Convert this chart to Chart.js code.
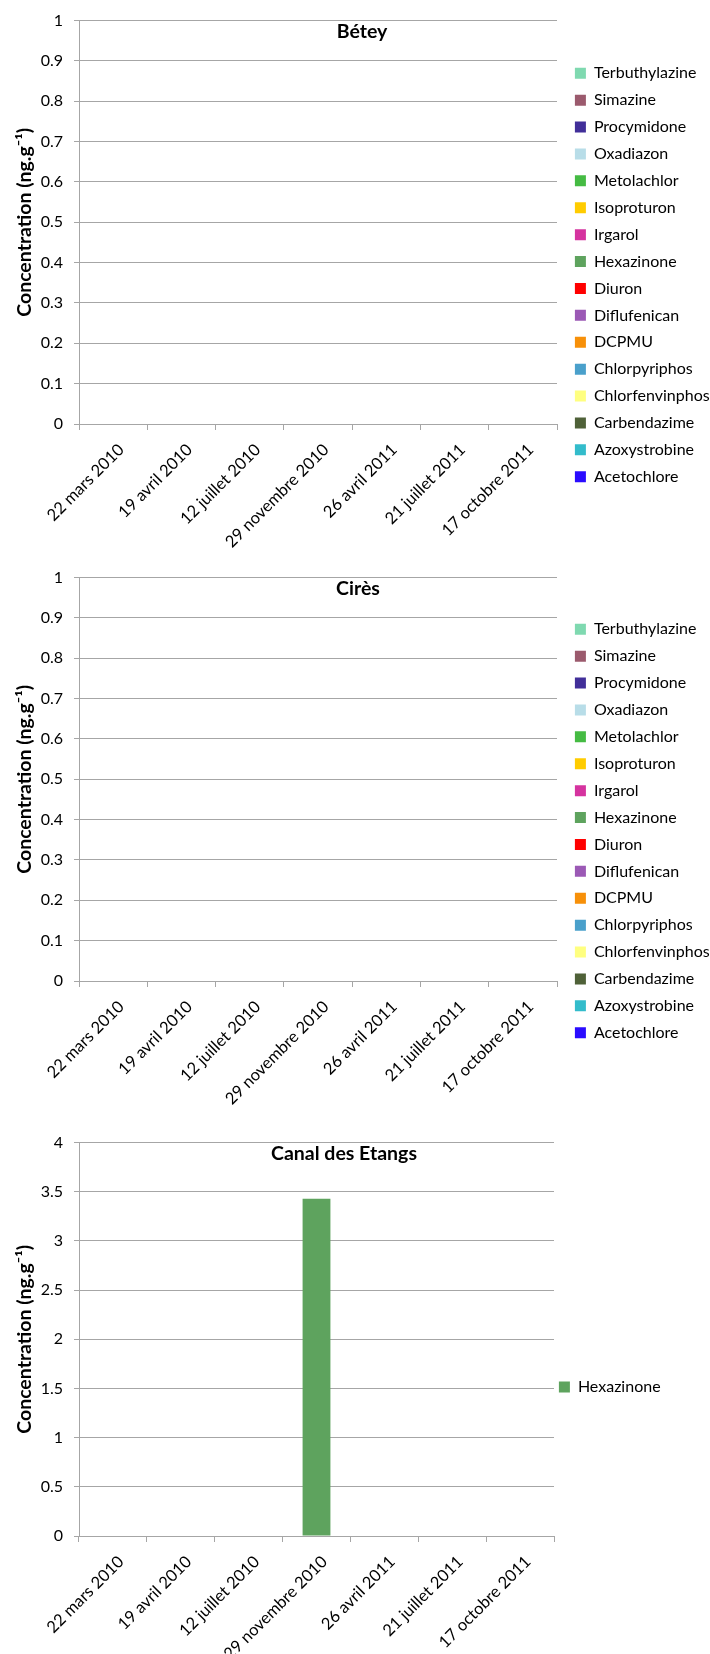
<!DOCTYPE html>
<html>
<head>
<meta charset="utf-8">
<script src="https://cdn.jsdelivr.net/npm/chart.js@4.4.1/dist/chart.umd.min.js"></script>
<style>
  body { margin: 0; background: #fff; }
  .panel { position: absolute; left: 0; width: 710px; }
</style>
</head>
<body>
<div class="panel" style="top:0"><canvas id="betey" width="710" height="556"></canvas></div>
<div class="panel" style="top:557px"><canvas id="cires" width="710" height="556"></canvas></div>
<div class="panel" style="top:1122px"><canvas id="canal" width="710" height="532"></canvas></div>
<script>
const dates = ['22 mars 2010', '19 avril 2010', '12 juillet 2010', '29 novembre 2010',
               '26 avril 2011', '21 juillet 2011', '17 octobre 2011'];

// ordre des séries (la légende est affichée à l'envers, comme Excel)
const compounds = ['Acetochlore', 'Azoxystrobine', 'Carbendazime', 'Chlorfenvinphos', 'Chlorpyriphos',
                   'DCPMU', 'Diflufenican', 'Diuron', 'Hexazinone', 'Irgarol', 'Isoproturon',
                   'Metolachlor', 'Oxadiazon', 'Procymidone', 'Simazine', 'Terbuthylazine'];
const compoundColors = ['#2a0cff', '#33bccb', '#4f6138', '#ffff80', '#4aa0cb',
                        '#f79009', '#9b59b5', '#ff0000', '#5ea35e', '#d5339f', '#ffcc00',
                        '#45bb43', '#b8dde8', '#412f99', '#9b5a6d', '#7fd9b0'];

// Bétey et Cirès : rien de détecté sur les 7 campagnes
const beteyValues = [0, 0, 0, 0, 0, 0, 0];
const ciresValues = [0, 0, 0, 0, 0, 0, 0];
// Canal des Etangs : seule l'hexazinone
const canalHexazinone = [0, 0, 0, 3.43, 0, 0, 0];

const yTitle = 'Concentration (ng.g⁻¹)';
const FONT = 'Lato, "Open Sans", sans-serif';
const GRID = '#a6a6a6';

// titre posé dans la zone de tracé
const insideTitle = {
    id: 'insideTitle',
    afterDraw(chart, args, opts) {
        const ctx = chart.ctx;
        ctx.save();
        ctx.font = `bold 19.5px ${FONT}`;
        ctx.fillStyle = '#000';
        ctx.textAlign = 'center';
        ctx.textBaseline = 'middle';
        ctx.fillText(opts.text, opts.x, opts.y);
        ctx.restore();
    }
};

// largeur de légende fixe + décalage des items
const legendBox = {
    id: 'legendBox',
    beforeLayout(chart, args, opts) {
        const lg = chart.legend;
        if (!lg || lg._boxed) return;
        lg._boxed = true;
        const fit = lg.fit, draw = lg.draw;
        lg.fit = function () { fit.call(this); this.width = opts.width; };
        lg.draw = function () {
            this.ctx.save();
            this.ctx.translate(opts.shift, opts.shiftY);
            draw.call(this);
            this.ctx.restore();
        };
    }
};

function makeChart(id, cfg) {
    new Chart(document.getElementById(id), {
        type: 'bar',
        data: { labels: dates, datasets: cfg.datasets },
        plugins: [insideTitle, legendBox],
        options: {
            responsive: false,
            animation: false,
            layout: { padding: { top: 15, left: 0, right: 0, bottom: 0 } },
            datasets: { bar: { categoryPercentage: 1, barPercentage: 0.41, borderWidth: 0 } },
            scales: {
                x: {
                    stacked: true,
                    grid: { offset: true, drawOnChartArea: false, color: GRID, tickLength: 6 },
                    border: { color: GRID },
                    ticks: { minRotation: 45, maxRotation: 45, autoSkip: false, color: '#000',
                             padding: 10, labelOffset: 8,
                             font: { family: FONT, size: 16.5 } },
                    afterFit(scale) { scale.height = cfg.xHeight; }
                },
                y: {
                    stacked: true,
                    min: 0, max: cfg.yMax,
                    ticks: { stepSize: cfg.yStep, color: '#000', padding: 11,
                             font: { family: FONT, size: 16 },
                             callback: v => String(+v.toFixed(2)) },
                    grid: { color: GRID, tickLength: 5 },
                    border: { color: GRID },
                    title: { display: true, text: yTitle, color: '#000',
                             font: { family: FONT, size: 19.5, weight: 'bold' },
                             padding: { top: 13, bottom: 0 } },
                    afterFit(scale) { scale.width = 79; }
                }
            },
            plugins: {
                legend: {
                    position: 'right',
                    reverse: true,
                    labels: { boxWidth: 11, boxHeight: 11, padding: 10.9, color: '#000',
                              font: { family: FONT, size: cfg.legendFont } }
                },
                tooltip: { enabled: false },
                insideTitle: { text: cfg.title, x: cfg.titleX, y: 32 },
                legendBox: { width: cfg.legendWidth, shift: cfg.legendShift, shiftY: cfg.legendShiftY }
            }
        }
    });
}

const allSeries = values => compounds.map((name, i) => ({
    label: name,
    data: values.slice(),
    backgroundColor: compoundColors[i]
}));

makeChart('betey', {
    title: 'Bétey', titleX: 362, datasets: allSeries(beteyValues),
    yMax: 1, yStep: 0.1, xHeight: 132,
    legendFont: 16, legendWidth: 153, legendShift: 7, legendShiftY: -10.5
});
makeChart('cires', {
    title: 'Cirès', titleX: 358, datasets: allSeries(ciresValues),
    yMax: 1, yStep: 0.1, xHeight: 132,
    legendFont: 16, legendWidth: 153, legendShift: 7, legendShiftY: -11.5
});
makeChart('canal', {
    title: 'Canal des Etangs', titleX: 344,
    datasets: [{ label: 'Hexazinone', data: canalHexazinone, backgroundColor: compoundColors[compounds.indexOf('Hexazinone')] }],
    yMax: 4, yStep: 0.5, xHeight: 118,
    legendFont: 16, legendWidth: 156, legendShift: -6, legendShiftY: -8.5
});
</script>
</body>
</html>
